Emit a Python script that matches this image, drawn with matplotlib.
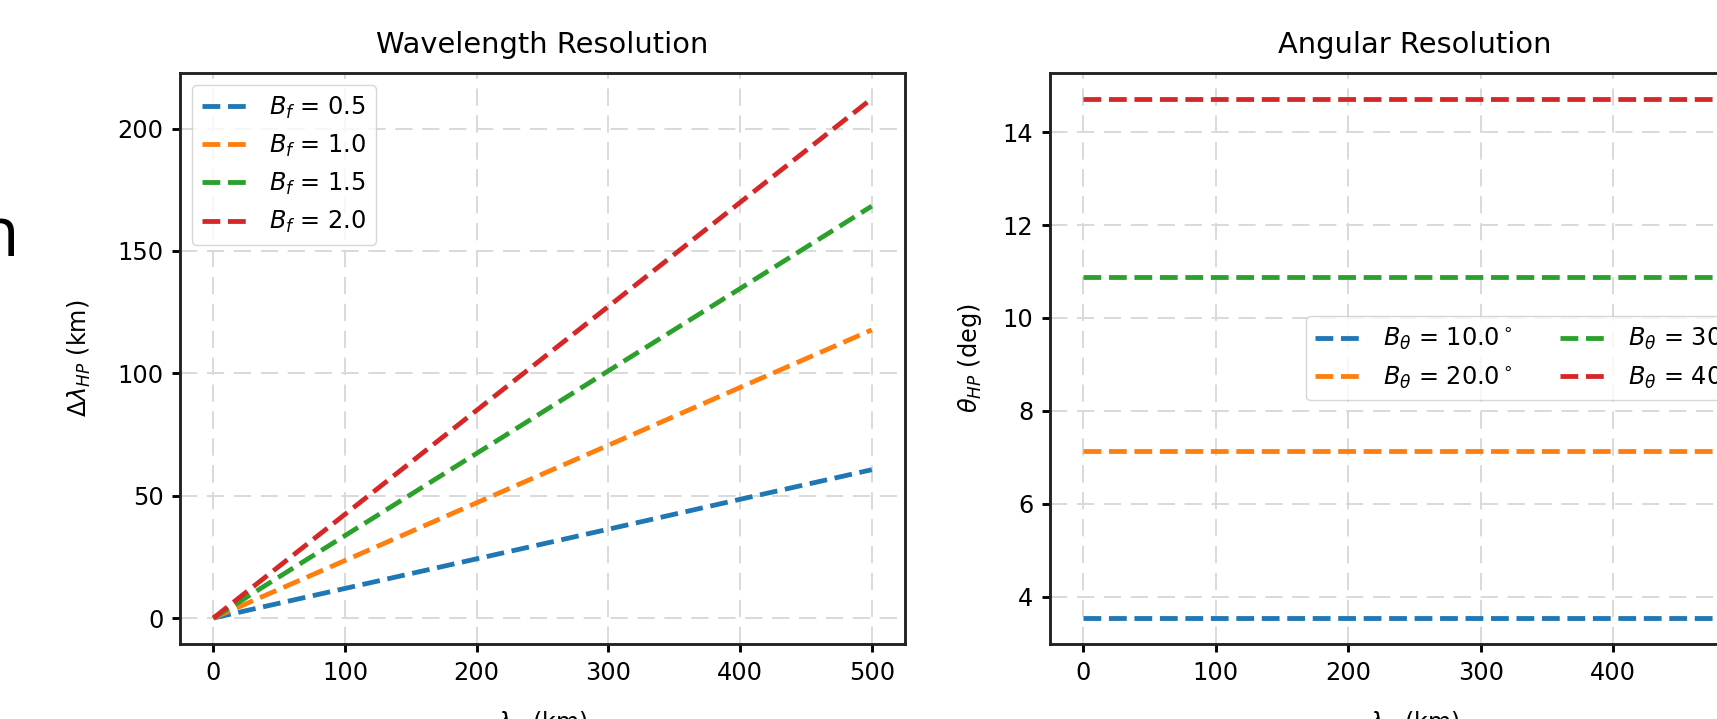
import matplotlib
matplotlib.use("Agg")
import matplotlib.pyplot as plt

# scale factor: the reference was rendered at a larger dpi than 100
s = 1.73
plt.rcParams.update({
    "font.family": "DejaVu Sans",
    "font.size": 10 * s,
    "axes.titlesize": 12 * s,
    "lines.linewidth": 2 * s,
    "axes.linewidth": 1.2 * s,
    "xtick.major.width": 1.2 * s,
    "ytick.major.width": 1.2 * s,
    "xtick.major.size": 3.5 * s,
    "ytick.major.size": 3.5 * s,
    "xtick.major.pad": 3.5 * s,
    "ytick.major.pad": 3.5 * s,
    "axes.titlepad": 6 * s + 3.6,
    "axes.labelpad": 18,
    "axes.edgecolor": "#222222",
    "mathtext.fontset": "dejavusans",
})

# wavelength resolution data (km)
lam = [0, 100, 200, 300, 400, 500]
bf_labels = ["0.5", "1.0", "1.5", "2.0"]
dlam_05 = [0, 12.1, 24.2, 36.3, 48.5, 60.6]
dlam_10 = [0, 23.5, 47.1, 70.6, 94.2, 117.7]
dlam_15 = [0, 33.7, 67.3, 101.0, 134.6, 168.3]
dlam_20 = [0, 42.4, 84.9, 127.3, 169.8, 212.2]

# angular resolution data (deg)
lam_ang = [0, 500]
btheta_labels = ["10.0", "20.0", "30.0", "40.0"]
theta_hp = [3.54, 7.14, 10.88, 14.72]

fig = plt.figure(figsize=(17.17, 7.19), dpi=100)
ax1 = fig.add_axes([0.1051, 0.1043, 0.4218, 0.7946])
ax2 = fig.add_axes([0.6115, 0.1043, 0.4246, 0.7946])

grid_kw = dict(color="0.85", linestyle=(0, (9, 5)), linewidth=0.8 * s)

for vals, lab in zip([dlam_05, dlam_10, dlam_15, dlam_20], bf_labels):
    ax1.plot(lam, vals, "--", label=r"$B_f$ = " + lab)
ax1.set_title("Wavelength Resolution")
ax1.set_xlabel(r"$\lambda_H$ (km)")
ax1.set_ylabel(r"$\Delta\lambda_{HP}$ (km)")
ax1.grid(True, **grid_kw)
ax1.legend(loc="upper left")

for v, lab in zip(theta_hp, btheta_labels):
    ax2.plot(lam_ang, [v, v], "--", label=r"$B_\theta$ = " + lab + r"$^\circ$")
ax2.set_title("Angular Resolution")
ax2.set_xlabel(r"$\lambda_H$ (km)")
ax2.set_ylabel(r"$\theta_{HP}$ (deg)", labelpad=13)
ax2.set_yticks([4, 6, 8, 10, 12, 14])
ax2.grid(True, **grid_kw)
ax2.legend(loc="center right", ncol=2)

# fragment of a slide heading cut off at the left edge
fig.text(20 / 1717, 1 - 256 / 719, "n", fontsize=50, family="Open Sans",
         ha="right", va="baseline")

fig.savefig("out.png", dpi=100)
